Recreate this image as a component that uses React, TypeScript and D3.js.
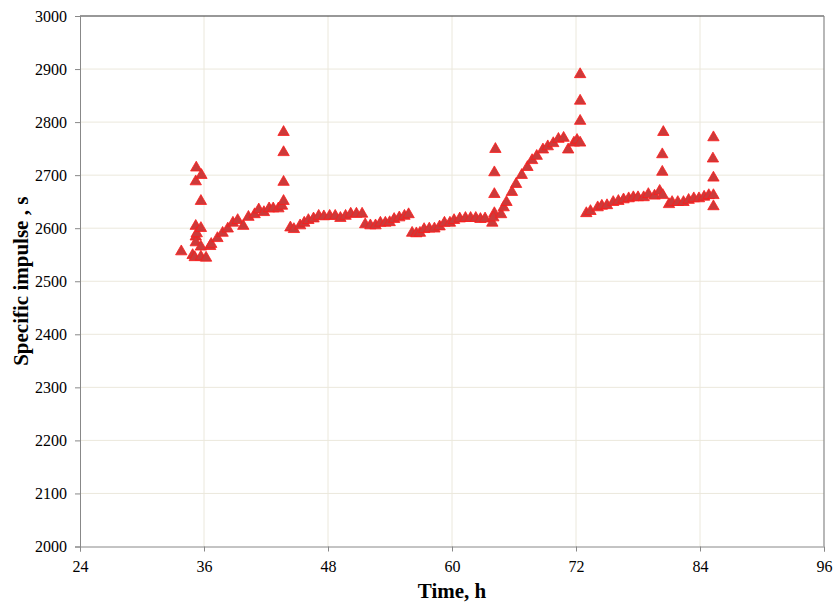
import React, { useEffect, useRef } from 'react';
import * as d3 from 'd3';

// time, h
const timeH = [
  33.8, 34.9, 35.1, 35.2, 35.2, 35.2, 35.2, 35.25, 35.3, 35.7, 35.75, 35.7, 35.7, 35.7, 36.2,
  36.6, 36.7, 37.3, 37.8, 38.3, 38.8, 39.26, 39.8, 40.3, 40.9, 41.3, 41.8, 42.3, 42.7, 43.2,
  43.55, 43.7, 43.7, 43.7, 43.7,
  44.36, 44.7, 45.3, 45.7, 46.1, 46.6, 47.1, 47.6, 48.16, 48.7, 49.2, 49.7, 50.2, 50.75, 51.3,
  51.6, 52.1, 52.6, 53.07, 53.55, 53.97, 54.4, 54.9, 55.4, 55.8,
  56.14, 56.55, 56.9, 57.3, 57.8, 58.3, 58.8, 59.27, 59.8, 60.2, 60.75, 61.3, 61.8, 62.3,
  62.75, 63.2, 63.9, 64.1, 64.0, 64.1, 64.1, 64.2, 64.75, 65.0, 65.27, 65.8, 66.2, 66.75,
  67.3, 67.75, 68.2, 68.8, 69.27, 69.8, 70.3, 70.8, 71.24, 71.8, 72.1, 72.4, 72.4, 72.4, 72.4,
  73.0, 73.4, 74.1, 74.5, 75.0, 75.6, 76.1, 76.6, 77.1, 77.55, 78.0, 78.55, 79.0, 79.6,
  80.1, 80.4, 80.35, 80.35, 80.45, 81.0, 81.3, 81.85, 82.4, 82.9, 83.4, 83.9, 84.4, 84.85,
  85.3, 85.3, 85.3, 85.25, 85.3,
];

// specific impulse, s
const impulseS = [
  2556, 2549, 2545, 2604, 2584, 2573, 2688, 2714, 2590, 2651, 2700, 2600, 2565, 2546, 2544,
  2566, 2570, 2581, 2591, 2599, 2610, 2615, 2604, 2621, 2626, 2635, 2630, 2637, 2637, 2637,
  2642, 2651, 2687, 2743, 2781,
  2601, 2598, 2605, 2610, 2615, 2618, 2623, 2622, 2623, 2623, 2619, 2623, 2627, 2627, 2627,
  2607, 2605, 2605, 2610, 2610, 2611, 2617, 2620, 2623, 2626,
  2591, 2590, 2591, 2598, 2599, 2599, 2603, 2610, 2610, 2615, 2618, 2619, 2619, 2619,
  2617, 2618, 2610, 2628, 2620, 2664, 2705, 2749, 2626, 2639, 2649, 2668, 2683, 2700,
  2715, 2728, 2736, 2748, 2754, 2760, 2768, 2770, 2748, 2761, 2766, 2761, 2802, 2840, 2890,
  2628, 2632, 2639, 2642, 2643, 2649, 2651, 2654, 2656, 2658, 2658, 2658, 2664, 2661,
  2670, 2662, 2706, 2739, 2781, 2645, 2649, 2649, 2649, 2653, 2656, 2656, 2659, 2662,
  2662, 2641, 2695, 2731, 2771,
];

const xTicks = [24, 36, 48, 60, 72, 84, 96];
const yTicks = [2000, 2100, 2200, 2300, 2400, 2500, 2600, 2700, 2800, 2900, 3000];

const W = 836;
const H = 605;
const left = 80;
const right = 824;
const top = 16;
const bottom = 546.5;

function App() {
  const ref = useRef<SVGSVGElement>(null);

  useEffect(() => {
    const svg = d3.select(ref.current);
    svg.selectAll('*').remove();

    const x = d3.scaleLinear().domain([24, 96]).range([left, right]);
    const y = d3.scaleLinear().domain([2000, 3000]).range([bottom, top]);
    const font = '"Liberation Serif", "Times New Roman", serif';

    // grid
    svg.append('g')
      .selectAll('line')
      .data(yTicks.slice(1, -1))
      .enter()
      .append('line')
      .attr('x1', left).attr('x2', right)
      .attr('y1', d => y(d)).attr('y2', d => y(d))
      .attr('stroke', '#ebe8dc').attr('stroke-width', 1);
    svg.append('g')
      .selectAll('line')
      .data(xTicks.slice(1, -1))
      .enter()
      .append('line')
      .attr('y1', top).attr('y2', bottom)
      .attr('x1', d => x(d)).attr('x2', d => x(d))
      .attr('stroke', '#ebe8dc').attr('stroke-width', 1);

    // frame
    svg.append('line').attr('x1', left).attr('x2', right).attr('y1', top).attr('y2', top)
      .attr('stroke', '#333').attr('stroke-width', 1.2);
    svg.append('line').attr('x1', right).attr('x2', right).attr('y1', top).attr('y2', bottom)
      .attr('stroke', '#888').attr('stroke-width', 1.2);

    const yAxis = svg.append('g')
      .attr('transform', `translate(${left},0)`)
      .call(d3.axisLeft(y).tickValues(yTicks).tickFormat(d3.format('d')).tickSize(5).tickPadding(8));
    const xAxis = svg.append('g')
      .attr('transform', `translate(0,${bottom})`)
      .call(d3.axisBottom(x).tickValues(xTicks).tickFormat(d3.format('d')).tickSize(5).tickPadding(9));
    [yAxis, xAxis].forEach(a => {
      a.selectAll('path, line').attr('stroke', '#888');
      a.selectAll('text').attr('font-family', font).attr('font-size', 16).attr('fill', '#000');
    });

    // points
    const tri = d3.symbol().type(d3.symbolTriangle).size(56);
    svg.append('g')
      .selectAll('path')
      .data(timeH.map((t, i) => [t, impulseS[i]]))
      .enter()
      .append('path')
      .attr('d', tri)
      .attr('transform', d => `translate(${x(d[0])},${y(d[1])})`)
      .attr('fill', '#cc3a3a')
      .attr('stroke', '#ff1a1a')
      .attr('stroke-width', 0.8);

    svg.append('text')
      .attr('x', (left + right) / 2)
      .attr('y', 598)
      .attr('text-anchor', 'middle')
      .attr('font-family', font)
      .attr('font-weight', 'bold')
      .attr('font-size', 21)
      .text('Time, h');

    svg.append('text')
      .attr('transform', `translate(28,${(top + bottom) / 2}) rotate(-90)`)
      .attr('text-anchor', 'middle')
      .attr('font-family', font)
      .attr('font-weight', 'bold')
      .attr('font-size', 21)
      .text('Specific impulse , s');
  }, []);

  return (
    <svg ref={ref} width={W} height={H} style={{ position: 'absolute', left: 0, top: 0, background: '#fff' }} />
  );
}

export default App;
